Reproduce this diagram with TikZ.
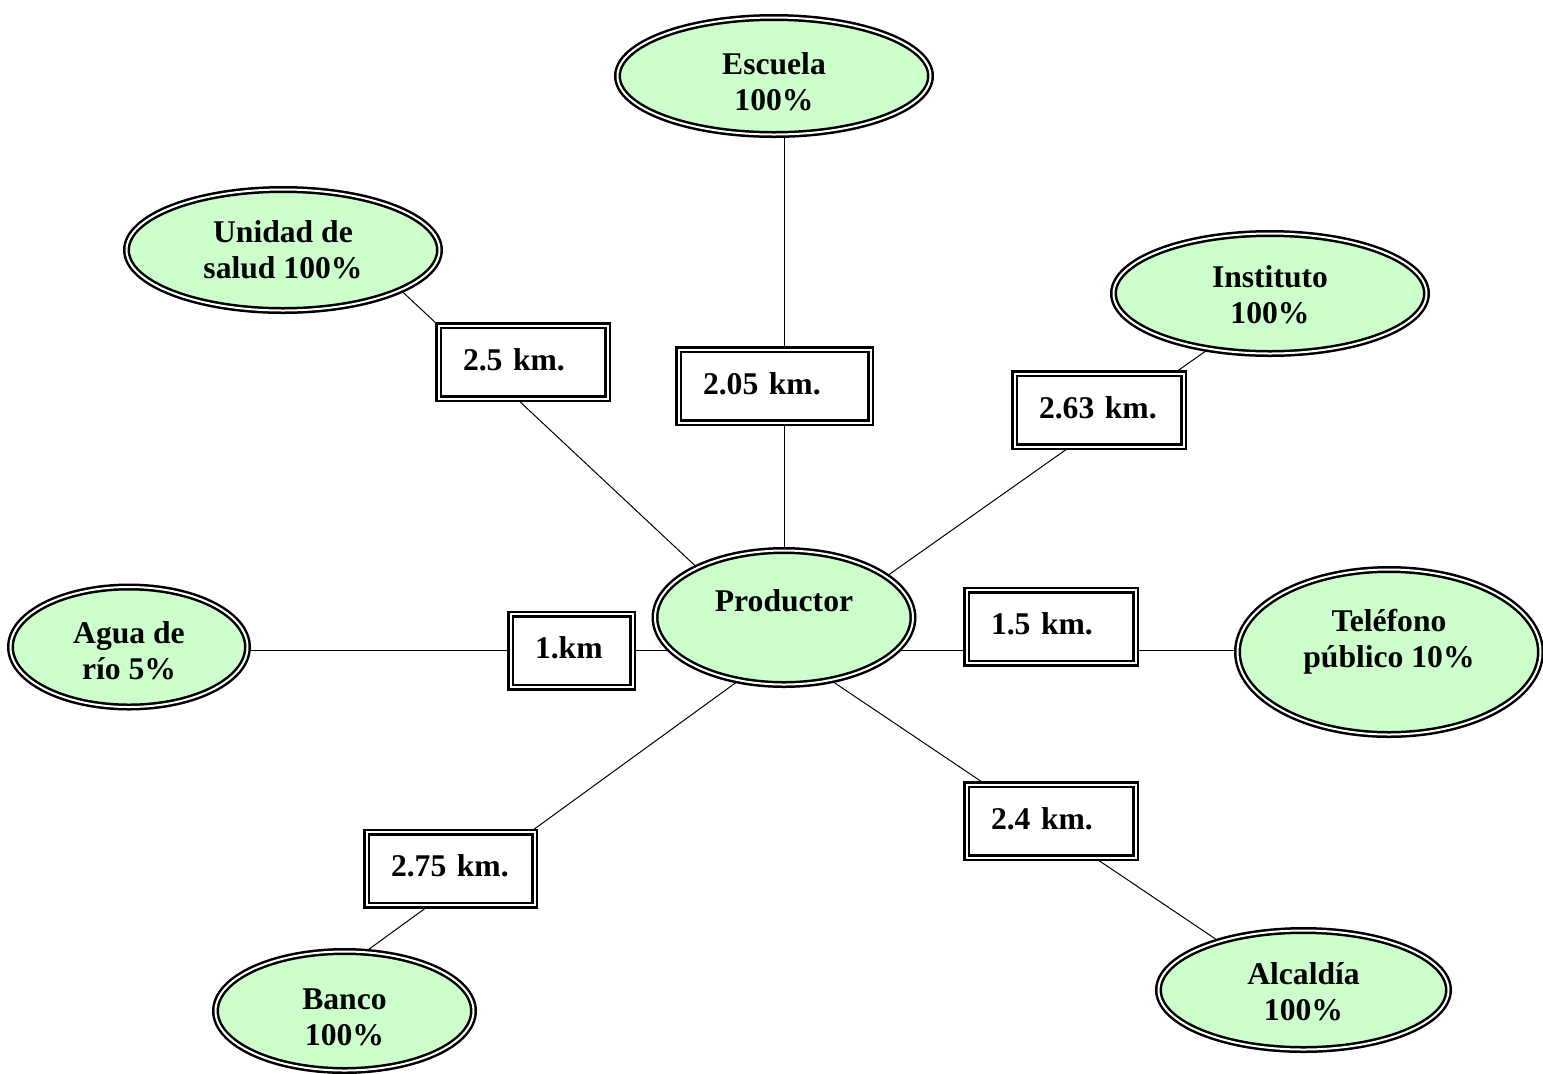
\documentclass[tikz,border=0pt]{standalone}
\usepackage{fontspec}
\setmainfont{Liberation Serif}
\usetikzlibrary{shapes.geometric,backgrounds}
\newlength\pxu
\setlength\pxu{0.02cm}
\definecolor{placegreen}{RGB}{204,255,204}

\begin{document}
\begin{tikzpicture}[x=0.02cm,y=-0.02cm,
  every node/.style={font=\bfseries\fontsize{18pt}{20.6pt}\selectfont},
  dbl/.style={draw=black, double=white, line width=2.5\pxu, double distance=2\pxu},
  place/.style={ellipse, dbl, fill=placegreen, inner sep=0pt, align=center},
  twoline/.style={place, text depth=0pt, text height=#1},
  kmbox/.style={rectangle, dbl, fill=white, inner xsep=24.5\pxu, inner ysep=0pt,
                align=left, text height=12.5pt, text depth=3.4pt, minimum height=73\pxu},
  link/.style={draw=black, line width=1\pxu}
]
\useasboundingbox (0,0) rectangle (1543,1073);

% central node and surrounding services
\node[place, text height=12.5pt, text depth=19.8pt, minimum width=258\pxu, minimum height=134\pxu] (prod) at (784,617.5) {Productor};
\node[twoline=39.4pt, minimum width=313\pxu, minimum height=117\pxu] (esc) at (774,76) {Escuela\\100\%};
\node[twoline=32.6pt, minimum width=313\pxu, minimum height=121\pxu] (uni) at (283,250) {Unidad de\\salud 100\%};
\node[twoline=34.3pt, minimum width=313\pxu, minimum height=120\pxu] (ins) at (1270,293.5) {Instituto\\100\%};
\node[twoline=37.1pt, minimum width=237\pxu, minimum height=120\pxu] (agua) at (129,647) {Agua de\\río 5\%};
\node[twoline=17.8pt, minimum width=303\pxu, minimum height=165\pxu] (tel) at (1389,652) {Teléfono\\público 10\%};
\node[twoline=39.4pt, minimum width=258\pxu, minimum height=119\pxu] (banco) at (344.5,1011) {Banco\\100\%};
\node[twoline=34.8pt, minimum width=290\pxu, minimum height=119\pxu] (alc) at (1303.5,990) {Alcaldía\\100\%};

% distance boxes
\node[kmbox, minimum width=169\pxu, text width=120\pxu] (b25)  at (523,362)    {2.5 km.};
\node[kmbox, minimum width=192\pxu, text width=143\pxu] (b205) at (774.5,386)  {2.05 km.};
\node[kmbox, minimum width=169\pxu, text width=120\pxu] (b263) at (1099,410)   {2.63 km.};
\node[kmbox, minimum width=122\pxu, text width=73\pxu]  (b1)   at (571.5,650.5) {1.km};
\node[kmbox, minimum width=169\pxu, text width=120\pxu] (b15)  at (1051,626.5) {1.5 km.};
\node[kmbox, minimum width=169\pxu, text width=120\pxu] (b24)  at (1051,821)   {2.4 km.};
\node[kmbox, minimum width=168\pxu, text width=119\pxu] (b275) at (450.5,868.5) {2.75 km.};

% connectors run behind the filled nodes
\begin{scope}[on background layer]
  \draw[link] (prod.center) -- (prod.center |- esc.south);
  \draw[link] (uni.-19) -- (prod.150);
  \draw[link] (ins.-138) -- (prod.22);
  \draw[link] (agua.east |- b1) -- (prod.center |- b1);
  \draw[link] (prod.center |- b1) -- (tel.west |- b1);
  \draw[link] (banco.70) -- (prod.234);
  \draw[link] (alc.150) -- (prod.-53);
\end{scope}
\end{tikzpicture}
\end{document}
